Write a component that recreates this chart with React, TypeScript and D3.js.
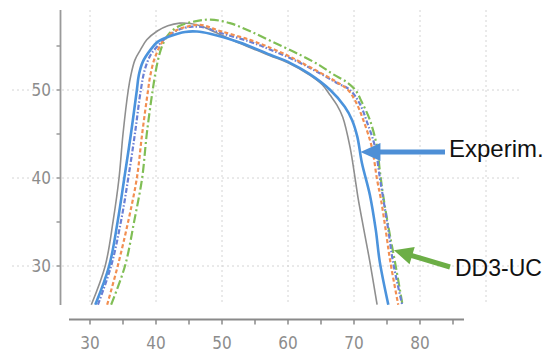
import React from 'react';
import * as d3 from 'd3';

type Pt = [number, number];

// axis ticks and labels
const xTickValues = [30, 35, 40, 45, 50, 55, 60, 65, 70, 75, 80, 85];
const xTickLabels = [30, 40, 50, 60, 70, 80];
const xGridValues = [30, 40, 50, 60, 70, 80, 90];
const yTickValues = [30, 35, 40, 45, 50, 55];
const yTickLabels = [30, 40, 50];

// series: [x, y]
const seriesGray: Pt[] = [
  [30.2, 25.6], [32.3, 30.0], [33.5, 35.1], [34.4, 40.0], [35.0, 45.0], [35.8, 50.0],
  [36.2, 51.7], [36.8, 53.4], [37.6, 54.5], [38.6, 55.7], [40.2, 56.7], [41.8, 57.3],
  [43.6, 57.6], [45.2, 57.55], [46.7, 57.3], [48.9, 56.6], [52.7, 55.3], [57.3, 53.9],
  [60.0, 53.1], [63.3, 51.7], [65.2, 50.6], [66.4, 49.4], [67.4, 48.3], [68.3, 46.9],
  [69.4, 43.5], [70.2, 39.8], [70.6, 37.8], [71.5, 34.1], [72.4, 30.5], [73.5, 25.6],
];

const seriesExperim: Pt[] = [
  [30.8, 25.6], [32.9, 30.0], [34.2, 35.1], [35.2, 40.0], [36.2, 45.0], [37.1, 50.0],
  [37.4, 51.7], [38.0, 53.2], [39.1, 54.5], [40.3, 55.5], [42.1, 56.1], [44.4, 56.6],
  [46.2, 56.65], [48.2, 56.4], [52.7, 55.4], [57.3, 54.0], [60.0, 53.2], [63.3, 51.8],
  [66.4, 50.0], [68.6, 48.1], [69.7, 46.6], [70.5, 44.7], [71.2, 41.7], [72.4, 38.1],
  [73.3, 34.1], [73.9, 30.5], [75.2, 25.6],
];

const seriesOrange: Pt[] = [
  [32.6, 25.6], [34.2, 30.0], [35.8, 35.1], [37.1, 40.0], [37.9, 45.0], [38.8, 50.0],
  [39.1, 51.5], [39.8, 53.6], [41.1, 55.6], [42.6, 56.6], [44.7, 57.2], [46.7, 57.4],
  [49.7, 56.7], [54.2, 55.7], [57.6, 54.7], [60.0, 53.9], [61.8, 53.2], [64.8, 52.0],
  [67.4, 50.9], [69.1, 50.0], [70.3, 48.6], [71.4, 46.6], [72.7, 43.5], [73.5, 39.8],
  [74.1, 37.5], [74.8, 34.1], [75.5, 30.5], [76.7, 25.6],
];

const seriesPurple: Pt[] = [
  [31.2, 25.6], [33.2, 30.0], [34.7, 35.1], [35.8, 40.0], [36.8, 45.0], [37.7, 50.0],
  [38.3, 52.3], [39.2, 54.0], [40.5, 55.2], [41.8, 56.1], [43.6, 56.9], [45.5, 57.2],
  [47.4, 57.1], [49.7, 56.5], [54.2, 55.5], [57.6, 54.5], [61.8, 53.1], [64.8, 51.9],
  [67.4, 50.8], [69.4, 50.0], [70.9, 48.4], [72.0, 46.3], [73.2, 43.5], [73.9, 40.1],
  [74.4, 37.8], [75.2, 34.1], [75.9, 30.5], [77.3, 25.6],
];

const seriesDD3UC: Pt[] = [
  [33.2, 25.6], [35.3, 30.0], [36.7, 35.1], [37.9, 40.0], [38.6, 45.0], [39.5, 50.0],
  [40.0, 52.3], [40.5, 54.0], [41.1, 55.3], [42.1, 56.5], [43.6, 57.3], [45.9, 57.8],
  [48.2, 58.0], [51.2, 57.6], [54.2, 56.7], [57.6, 55.5], [61.8, 54.0], [64.8, 52.8],
  [66.8, 51.8], [68.9, 50.9], [70.2, 50.0], [71.2, 48.6], [72.4, 46.6], [73.5, 43.5],
  [73.9, 40.9], [74.4, 38.1], [75.3, 34.1], [76.2, 30.5], [77.3, 25.8],
];

const W = 544;
const H = 353;

const x = d3.scaleLinear().domain([30, 80]).range([90, 420]);
const y = d3.scaleLinear().domain([30, 50]).range([266, 90]);

const plotTop = 10;
const plotBottom = 305;
const yAxisX = 60.5;
const xAxisY = 319.5;
const xAxisLeft = 69;
const xAxisRight = 464;
const gridLeft = 12;
const gridRight = 520;

const line = d3
  .line<Pt>()
  .x((d) => x(d[0]))
  .y((d) => y(d[1]))
  .curve(d3.curveCatmullRom.alpha(0.5));

const styles = [
  { data: seriesGray, color: '#8f8f8f', width: 1.6, dash: undefined as string | undefined },
  { data: seriesDD3UC, color: '#80be55', width: 2.2, dash: '9,3,2,3' },
  { data: seriesPurple, color: '#6a80d6', width: 2.2, dash: '5,2,1.5,2' },
  { data: seriesOrange, color: '#f28f52', width: 2.2, dash: '4,2.5' },
  { data: seriesExperim, color: '#4b93dc', width: 2.6, dash: undefined },
];

function Arrow({ tail, tip, color, headLen, headHalf, width }: {
  tail: [number, number]; tip: [number, number]; color: string;
  headLen: number; headHalf: number; width: number;
}) {
  const dx = tip[0] - tail[0];
  const dy = tip[1] - tail[1];
  const len = Math.hypot(dx, dy);
  const ux = dx / len;
  const uy = dy / len;
  const bx = tip[0] - ux * headLen;
  const by = tip[1] - uy * headLen;
  const px = -uy;
  const py = ux;
  const pts = [
    [tip[0], tip[1]],
    [bx + px * headHalf, by + py * headHalf],
    [bx - px * headHalf, by - py * headHalf],
  ].map((p) => p.join(',')).join(' ');
  return (
    <g>
      <line x1={tail[0]} y1={tail[1]} x2={bx + ux * 2} y2={by + uy * 2} stroke={color} strokeWidth={width} />
      <polygon points={pts} fill={color} />
    </g>
  );
}

export default function App() {
  const tickFont = "'Liberation Sans Narrow', 'DejaVu Sans Condensed', sans-serif";
  const labelFont = "'Liberation Sans', Arial, sans-serif";
  const experimTip: [number, number] = [x(70.9) + 0.5, y(42.95)];
  const dd3Tip: [number, number] = [x(76.05), y(31.8)];
  return (
    <svg
      width={W}
      height={H}
      viewBox={`0 0 ${W} ${H}`}
      style={{ position: 'absolute', left: 0, top: 0, background: '#fff' }}
    >
      <rect width={W} height={H} fill="#fff" />
      <defs>
        <clipPath id="plot">
          <rect x={yAxisX} y={plotTop} width={gridRight - yAxisX} height={plotBottom - plotTop} />
        </clipPath>
      </defs>

      {/* grid */}
      <g stroke="#d4d4d4" strokeWidth={1} strokeDasharray="2,3">
        {yTickLabels.map((v) => (
          <line key={`h${v}`} x1={gridLeft} x2={gridRight} y1={y(v)} y2={y(v)} />
        ))}
        {xGridValues.map((v) => (
          <line key={`v${v}`} x1={x(v)} x2={x(v)} y1={plotTop} y2={plotBottom} />
        ))}
      </g>

      {/* y axis */}
      <line x1={yAxisX} x2={yAxisX} y1={plotTop} y2={plotBottom} stroke="#9a9a9a" strokeWidth={1.8} />
      {yTickValues.map((v) => (
        <line key={`yt${v}`} x1={yAxisX - 4} x2={yAxisX} y1={y(v)} y2={y(v)} stroke="#9a9a9a" strokeWidth={1.5} />
      ))}
      {yTickLabels.map((v) => (
        <g key={`yl${v}`}>
          <rect x={36} y={y(v) - 8} width={16} height={16} fill="#fff" />
          <text x={51} y={y(v)} dy="0.36em" textAnchor="end" fontFamily={tickFont} fontSize={17} fill="#8c8c8c">
            {v}
          </text>
        </g>
      ))}

      {/* x axis */}
      <line x1={xAxisLeft} x2={xAxisRight} y1={xAxisY} y2={xAxisY} stroke="#8a8a8a" strokeWidth={1.8} />
      {xTickValues.map((v) => (
        <line key={`xt${v}`} x1={x(v)} x2={x(v)} y1={xAxisY} y2={xAxisY + 5} stroke="#8a8a8a" strokeWidth={1.5} />
      ))}
      {xTickLabels.map((v) => (
        <text key={`xl${v}`} x={x(v)} y={349} textAnchor="middle" fontFamily={tickFont} fontSize={17} fill="#8c8c8c">
          {v}
        </text>
      ))}

      {/* curves */}
      <g clipPath="url(#plot)" fill="none" strokeLinecap="butt" strokeLinejoin="round">
        {styles.map((s, i) => (
          <path
            key={i}
            d={line(s.data) || ''}
            stroke={s.color}
            strokeWidth={s.width}
            strokeDasharray={s.dash}
          />
        ))}
      </g>

      {/* annotations */}
      <Arrow tail={[445, experimTip[1]]} tip={experimTip} color="#4e8fd6" headLen={20} headHalf={9} width={5} />
      <text x={449} y={157} fontFamily={labelFont} fontSize={24} fill="#111">Experim.</text>

      <Arrow tail={[450, 267]} tip={dd3Tip} color="#6cae46" headLen={19} headHalf={9} width={5} />
      <text x={455} y={276} fontFamily={labelFont} fontSize={23} fill="#111">DD3-UC</text>
    </svg>
  );
}
